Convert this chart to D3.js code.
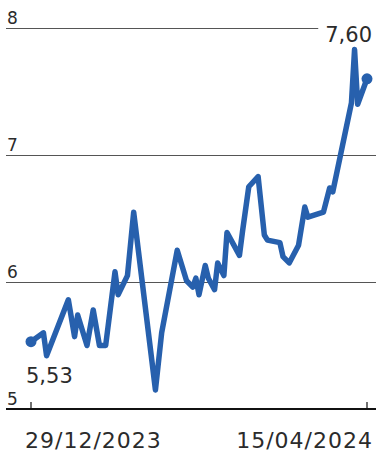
<!DOCTYPE html>
<html>
<head>
<meta charset="utf-8">
<script src="https://cdn.jsdelivr.net/npm/d3@7"></script>
<style>
  html, body { margin: 0; padding: 0; background: #fff; }
  svg { display: block; }
</style>
</head>
<body>
<svg id="chart" width="376" height="452"></svg>
<script>
// ---- data ----
const dates = [
  "2023-12-29","2024-01-02","2024-01-03","2024-01-10","2024-01-12","2024-01-13",
  "2024-01-16","2024-01-18","2024-01-20","2024-01-22","2024-01-25","2024-01-26",
  "2024-01-29","2024-01-31","2024-02-07","2024-02-09","2024-02-14","2024-02-17",
  "2024-02-19","2024-02-20","2024-02-21","2024-02-23","2024-02-24","2024-02-26",
  "2024-02-27","2024-02-29","2024-03-01","2024-03-05","2024-03-06","2024-03-08",
  "2024-03-11","2024-03-13","2024-03-14","2024-03-18","2024-03-19","2024-03-21",
  "2024-03-24","2024-03-26","2024-03-27","2024-04-01","2024-04-03","2024-04-04",
  "2024-04-10","2024-04-11","2024-04-12","2024-04-15"
];
const values = [
  5.53, 5.60, 5.42, 5.86, 5.57, 5.74,
  5.50, 5.78, 5.50, 5.50, 6.08, 5.90,
  6.05, 6.55, 5.15, 5.60, 6.25, 6.01,
  5.96, 6.03, 5.90, 6.13, 6.03, 5.94,
  6.15, 6.05, 6.39, 6.21, 6.40, 6.75,
  6.83, 6.37, 6.33, 6.31, 6.20, 6.15,
  6.29, 6.59, 6.51, 6.55, 6.74, 6.71,
  7.41, 7.83, 7.40, 7.60
];
const yTicks = [5, 6, 7, 8];
const xTickDates = ["2023-12-29", "2024-04-15"];
const xTickLabels = ["29/12/2023", "15/04/2024"];
const firstLabel = "5,53";
const lastLabel = "7,60";

// ---- setup ----
const parse = d3.utcParse("%Y-%m-%d");
const data = dates.map((d, i) => ({ date: parse(d), value: values[i] }));

const svg = d3.select("#chart");
const W = 376;
const x = d3.scaleUtc()
  .domain([parse(xTickDates[0]), parse(xTickDates[1])])
  .range([31, 367]);
const y = d3.scaleLinear().domain([5, 8]).range([409, 28]);

const textColor = "#2b2b2b";
const lineColor = "#2760ad";

// gridlines
const grid = svg.append("g");
grid.selectAll("line")
  .data(yTicks.filter(t => t !== 5))
  .join("line")
  .attr("x1", 6).attr("x2", W)
  .attr("y1", d => y(d) + 0.5).attr("y2", d => y(d) + 0.5)
  .attr("stroke", "#555").attr("stroke-width", 1);

// y tick labels
svg.append("g").selectAll("text")
  .data(yTicks)
  .join("text")
  .attr("x", 7)
  .attr("y", d => y(d) - 4)
  .attr("font-family", "DejaVu Sans, sans-serif")
  .attr("font-size", 17)
  .attr("fill", textColor)
  .text(d => d);

// x axis baseline
svg.append("line")
  .attr("x1", 6).attr("x2", W)
  .attr("y1", y(5)).attr("y2", y(5))
  .attr("stroke", "#111").attr("stroke-width", 2);

// x ticks
const xt = svg.append("g");
xt.selectAll("line")
  .data(xTickDates)
  .join("line")
  .attr("x1", d => x(parse(d))).attr("x2", d => x(parse(d)))
  .attr("y1", y(5) - 7).attr("y2", y(5))
  .attr("stroke", "#111").attr("stroke-width", 1.2);

xt.selectAll("text")
  .data(xTickLabels)
  .join("text")
  .attr("x", (d, i) => i === 0 ? x(parse(xTickDates[0])) - 6 : x(parse(xTickDates[1])) + 6)
  .attr("y", 448)
  .attr("text-anchor", (d, i) => i === 0 ? "start" : "end")
  .attr("font-family", "DejaVu Sans, sans-serif")
  .attr("font-size", 22)
  .attr("letter-spacing", 1)
  .attr("fill", textColor)
  .text(d => d);

// last value label with white background hiding gridline
const last = data[data.length - 1];
const first = data[0];
const lastText = svg.append("text")
  .attr("x", 372)
  .attr("y", 42)
  .attr("text-anchor", "end")
  .attr("font-family", "DejaVu Sans, sans-serif")
  .attr("font-size", 21)
  .attr("fill", textColor)
  .text(lastLabel);
const bb = lastText.node().getBBox();
svg.insert("rect", () => lastText.node())
  .attr("x", bb.x - 7).attr("y", bb.y)
  .attr("width", W - bb.x + 7).attr("height", bb.height)
  .attr("fill", "#fff");

// line
const line = d3.line()
  .x(d => x(d.date))
  .y(d => y(d.value));

svg.append("path")
  .datum(data)
  .attr("d", line)
  .attr("fill", "none")
  .attr("stroke", lineColor)
  .attr("stroke-width", 5.5)
  .attr("stroke-linejoin", "round")
  .attr("stroke-linecap", "round");

svg.append("g").selectAll("circle")
  .data([first, last])
  .join("circle")
  .attr("cx", d => x(d.date))
  .attr("cy", d => y(d.value))
  .attr("r", 5.5)
  .attr("fill", lineColor);

// first value label
svg.append("text")
  .attr("x", 26)
  .attr("y", 383)
  .attr("font-family", "DejaVu Sans, sans-serif")
  .attr("font-size", 21)
  .attr("fill", textColor)
  .text(firstLabel);
</script>
</body>
</html>
